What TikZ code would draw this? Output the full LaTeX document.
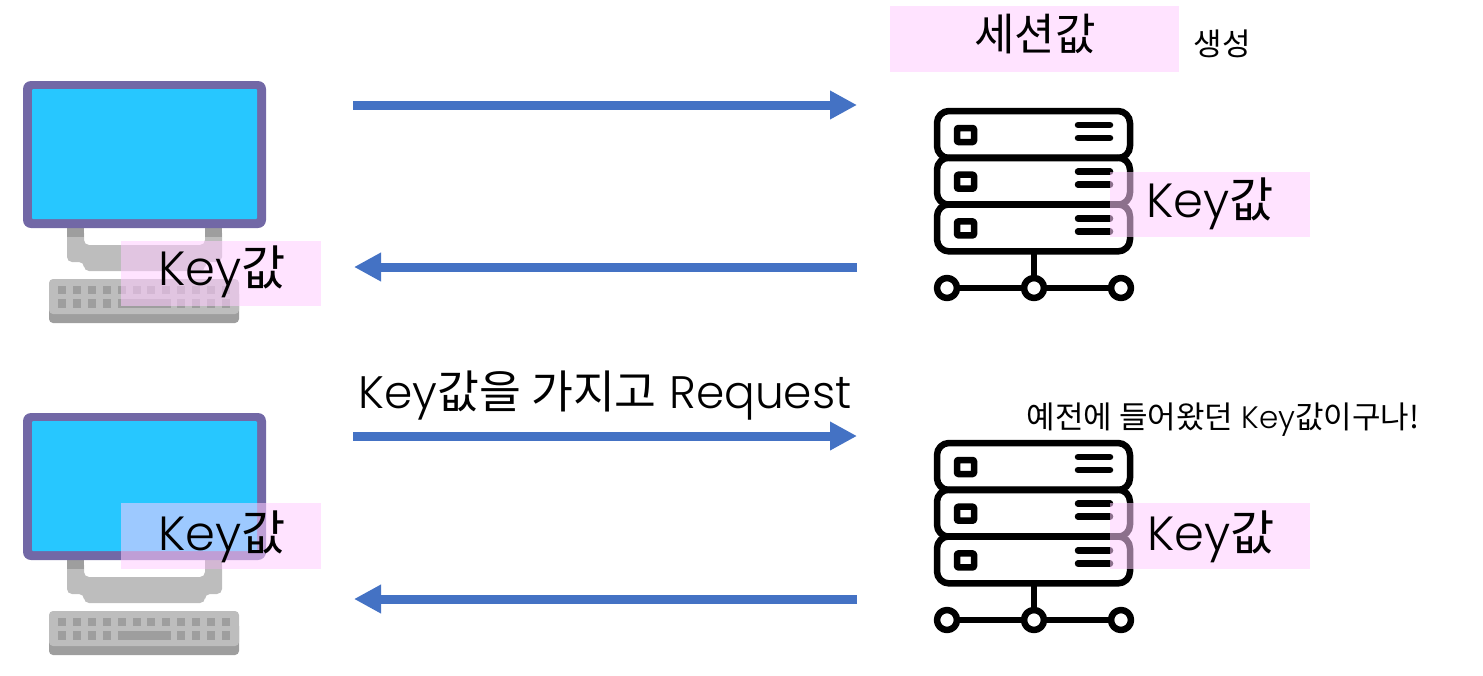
\documentclass[tikz,border=0pt]{standalone}
\usepackage{fontspec}
\setmainfont{Poppins Light}
\newfontfamily\krfont{Noto Sans CJK KR}
\usetikzlibrary{arrows.meta}
\definecolor{framepurple}{HTML}{7268A6}
\definecolor{screenblue}{HTML}{27C7FF}
\definecolor{standgray}{HTML}{BDBDBD}
\definecolor{keygray}{HTML}{9E9E9E}
\definecolor{flowblue}{HTML}{4472C4}
\definecolor{notepink}{HTML}{FFCCFF}
\newcommand{\kr}[1]{{\krfont #1}}
\tikzset{
  flow/.style={draw=flowblue,line width=9pt,-{Triangle[length=27pt,width=27pt]},shorten >=0pt},
  notebox/.style={fill=notepink,fill opacity=0.55,text opacity=1,inner sep=0pt,minimum height=65pt},
  keytext/.style={font=\fontsize{48}{56}\selectfont},
  rack/.style={line width=6.5pt,line cap=round,line join=round},
  pcicon/.pic={
    % stand
    \fill[standgray,rounded corners=5pt] (67,228) -- (84,228) -- (84,245) -- (205,245) -- (205,228)
      -- (222,228) -- (222,262) -- (205,262) -- (205,271) -- (84,271) -- (84,262) -- (67,262) -- cycle;
    \fill[keygray] (67,228) rectangle (84,237);
    \fill[keygray] (205,228) rectangle (222,237);
    % screen
    \fill[framepurple,rounded corners=8pt] (23,81) rectangle (266,228);
    \fill[screenblue,rounded corners=1pt] (32,89) rectangle (257,219);
    % keyboard
    \fill[keygray,rounded corners=4pt] (49,290) rectangle (239,323);
    \fill[standgray,rounded corners=4pt] (49,279) rectangle (239,314);
    \foreach \k in {0,...,11} \fill[keygray] (58+14.9*\k,286) rectangle ++(8,8);
    \foreach \k in {0,1,2,3,8,9,10,11} \fill[keygray] (58+14.9*\k,299) rectangle ++(8,8.5);
    \fill[keygray] (118,299) rectangle (171,307.5);
  },
  servericon/.pic={
    \foreach \u in {0,46.7,93.4} {
      \draw[rack,rounded corners=12pt] (937,111+\u) rectangle (1130,158+\u);
      \draw[rack,rounded corners=1pt] (957,128+\u) rectangle (974,142+\u);
      \draw[rack] (1078,125+\u) -- (1110,125+\u);
      \draw[rack] (1078,138+\u) -- (1110,138+\u);
    }
    \draw[rack] (1034,252) -- (1034,278);
    \draw[rack] (957,288) -- (1024,288);
    \draw[rack] (1044,288) -- (1111,288);
    \foreach \c in {947,1034,1121} \draw[rack] (\c,288) circle (10);
  }
}
\begin{document}
\begin{tikzpicture}[x=1pt,y=-1pt]
  \useasboundingbox (0,0) rectangle (1483,675);

  \pic at (0,0) {pcicon};
  \pic at (0,332) {pcicon};
  \pic at (0,0) {servericon};
  \pic at (0,332) {servericon};

  % end points of the arrows
  \coordinate (pcA) at (353,105);
  \coordinate (srvA) at (857,105);
  \coordinate (srvB) at (857,267);
  \coordinate (pcB) at (354,267);
  \coordinate (pcC) at (353,436);
  \coordinate (srvC) at (857,436);
  \coordinate (srvD) at (857,599);
  \coordinate (pcD) at (354,599);

  \draw[flow] (pcA) -- (srvA);
  \draw[flow] (srvB) -- (pcB);
  \draw[flow] (pcC) -- (srvC);
  \draw[flow] (srvD) -- (pcD);

  \node[notebox,minimum width=289pt,minimum height=66pt] (session) at (1034.5,39) {};
  \node[font=\fontsize{44}{52}\selectfont] (sessiontext) at (1035,34) {\kr{세션값}};
  \node[font=\fontsize{31}{38}\selectfont] (maketext) at (1222.5,44) {\kr{생성}};

  \node[notebox,minimum width=200pt] (keyA) at (221,273.5) {};
  \node[keytext] (keyAtext) at (222,272) {Key\kr{값}};
  \node[notebox,minimum width=200pt] (keyB) at (1210,204.5) {};
  \node[keytext] (keyBtext) at (1210,204) {Key\kr{값}};
  \node[notebox,minimum width=200pt,minimum height=66pt] (keyC) at (221,536) {};
  \node[keytext] (keyCtext) at (222,537) {Key\kr{값}};
  \node[notebox,minimum width=200pt,minimum height=66pt] (keyD) at (1210,536) {};
  \node[keytext] (keyDtext) at (1211,537) {Key\kr{값}};

  \node[font=\fontsize{45.5}{54}\selectfont] (reqtext) at (605,396) {Key\kr{값을 가지고} Request};
  \node[font=\fontsize{31}{38}\selectfont] (oldtext) at (1223,420) {\kr{예전에 들어왔던} Key\kr{값이구나!}};
\end{tikzpicture}
\end{document}
